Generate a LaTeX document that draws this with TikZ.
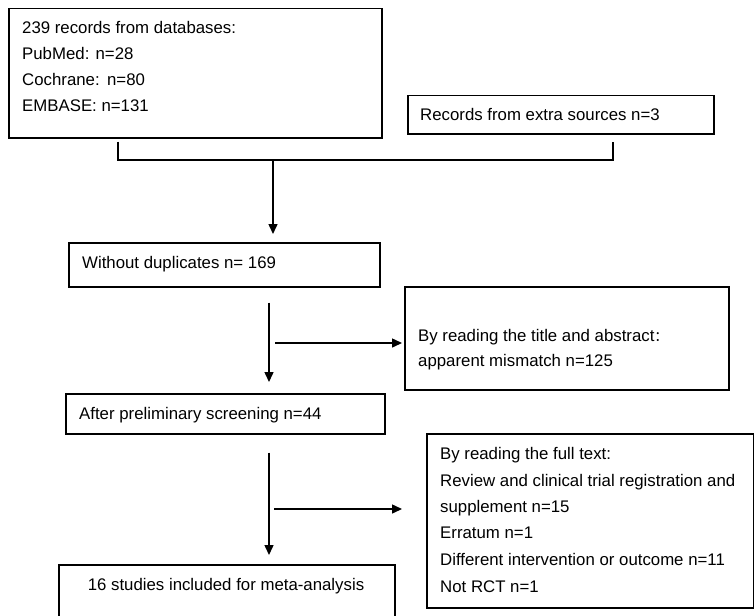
\documentclass[tikz,border=0pt]{standalone}
\usepackage{fontspec}
\setmainfont{Liberation Sans}
\newfontfamily\cjkfont{Noto Sans CJK SC}
\usetikzlibrary{arrows.meta,calc}
\tikzset{
  box/.style={draw=black, line width=1.5pt, rectangle, inner sep=0pt, anchor=north west},
  txt/.style={inner sep=0pt, anchor=base west, font=\fontsize{16.8}{20}\selectfont},
  ctxt/.style={inner sep=0pt, anchor=base, font=\fontsize{16.8}{20}\selectfont},
  conn/.style={draw=black, line width=1.5pt},
  arr/.style={conn, -{Triangle[length=10pt,width=9pt]}}
}
\begin{document}
\begin{tikzpicture}[x=1pt,y=-1pt]
\clip (0,0) rectangle (754,615);
\useasboundingbox (0,0) rectangle (754,615);
% boxes
\node[box, minimum width=373pt, minimum height=129pt] (A) at (8,8) {};
\node[box, minimum width=306pt, minimum height=38pt] (B) at (407,95) {};
\node[box, minimum width=311pt, minimum height=44pt] (C) at (68,242) {};
\node[box, minimum width=324pt, minimum height=103pt] (D) at (404,286) {};
\node[box, minimum width=319pt, minimum height=40pt] (E) at (65,393) {};
\node[box, minimum width=327pt, minimum height=174pt] (F) at (426,433) {};
\node[box, minimum width=336pt, minimum height=70pt] (G) at (58,564) {};
% texts
\node[txt] (A1) at (22,34) {239 records from databases:};
\node[txt] (A2) at (22,60) {PubMed: n=28};
\node[txt] (A3) at (22,86) {Cochrane:\ \,n=80};
\node[txt] (A4) at (22,111) {EMBASE: n=131};
\node[txt] (B1) at (420,121) {Records from extra sources n=3};
\node[txt] (C1) at (82,268) {Without duplicates n= 169};
\node[txt] (D1) at (418,341) {By reading the title and abstract{\cjkfont\fontsize{14}{16}\selectfont ：}};
\node[txt] (D2) at (418,366) {apparent mismatch n=125};
\node[txt] (E1) at (79,419) {After preliminary screening n=44};
\node[txt] (F1) at (440,459) {By reading the full text:};
\node[txt] (F2) at (440,486) {Review and clinical trial registration and};
\node[txt] (F3) at (440,512) {supplement n=15};
\node[txt] (F4) at (440,538) {Erratum n=1};
\node[txt] (F5) at (440,565) {Different intervention or outcome n=11};
\node[txt] (F6) at (440,592) {Not RCT n=1};
\node[ctxt] (G1) at (226,590) {16 studies included for meta-analysis};
% connectors
\coordinate (b1) at (118,160);
\coordinate (b2) at (613,160);
\coordinate (m) at (273,160);
\draw[conn] ([yshift=-3pt]A.south -| b1) -- (b1) -- (b2) -- ([yshift=-7pt]B.south -| b2);
\draw[arr, shorten >=8pt] (m) -- (C.north -| m);
\coordinate (j1) at (269,300);
\coordinate (h1) at (275,343);
\draw[arr, shorten <=15pt, shorten >=11pt] (C.south -| j1) -- (E.north -| j1);
\draw[arr, shorten >=2pt] (h1) -- (h1 -| D.west);
\coordinate (j2) at (269,450);
\coordinate (h2) at (274,509);
\draw[arr, shorten <=18pt, shorten >=9pt] (E.south -| j2) -- (G.north -| j2);
\draw[arr, shorten >=24pt] (h2) -- (h2 -| F.west);
\end{tikzpicture}
\end{document}
